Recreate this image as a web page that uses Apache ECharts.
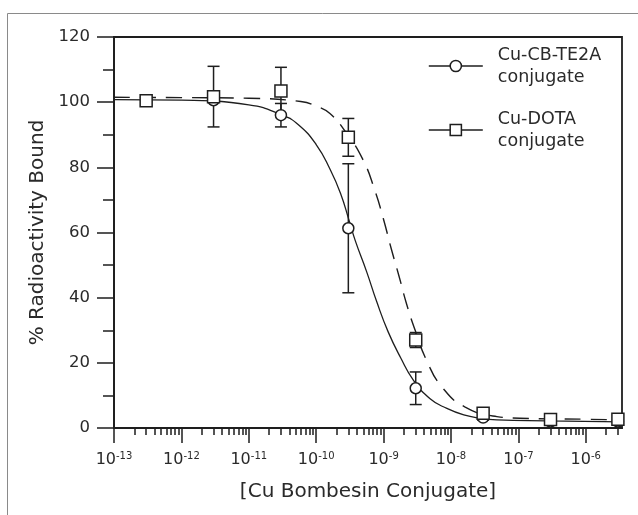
<!DOCTYPE html>
<html><head><meta charset="utf-8">
<script src="https://cdn.jsdelivr.net/npm/echarts@6/dist/echarts.min.js"></script>
<style>html,body{margin:0;padding:0;background:#fff}#c{width:638px;height:515px}</style>
</head><body><div id="c"></div>
<script>
// ---- data ----
const seriesNames = ['Cu-CB-TE2A conjugate', 'Cu-DOTA conjugate'];
const xAxisTitle = '[Cu Bombesin Conjugate]';
const yAxisTitle = '% Radioactivity Bound';

const concentrations = [3e-13, 3e-12, 3e-11, 3e-10, 3e-9, 3e-8, 3e-7, 3e-6];
const cbMeans   = [100.4, 100.6, 96.0, 61.3, 12.2, 3.2, 2.0, 2.0];
const cbErrors  = [0, 0, 3.6, 19.8, 5.0, 0.8, 0.4, 0.4];
const dotaMeans = [100.4, 101.7, 103.4, 89.2, 27.0, 4.5, 2.6, 2.7];
const dotaErrors = [0.6, 9.3, 7.3, 5.8, 2.3, 0.8, 0.5, 0.5];

// fitted curves
const cbFitX = [1e-13, 1e-12, 1e-11, 3.16e-11, 5.5e-11, 1e-10, 1.6e-10, 2.3e-10, 3.1e-10, 3.8e-10, 5.6e-10, 7.9e-10, 1.17e-9, 1.8e-9, 2.75e-9, 4.9e-9, 8.7e-9, 1.55e-8, 2.7e-8, 4.8e-8, 2.6e-7, 3.45e-6];
const cbFitY = [100.8, 100.6, 99.2, 96.0, 93.0, 87.0, 79.5, 72.0, 63.5, 57.5, 48.0, 38.8, 29.5, 21.5, 14.8, 9.0, 6.0, 4.0, 3.0, 2.5, 2.2, 1.9];
const dotaFitX = [1e-13, 1e-12, 1e-11, 5.9e-11, 1e-10, 1.6e-10, 2.7e-10, 4.9e-10, 7.4e-10, 1e-9, 1.3e-9, 1.7e-9, 2.2e-9, 3.0e-9, 4.4e-9, 7.4e-9, 1.6e-8, 4.8e-8, 1.05e-7, 9.1e-7, 3.45e-6];
const dotaFitY = [101.5, 101.4, 101.2, 100.2, 98.8, 96.5, 91.0, 82.5, 73.0, 64.0, 55.0, 46.5, 38.0, 29.5, 20.5, 12.5, 6.5, 3.5, 3.0, 2.7, 2.5];

// axis ticks
const xTickExponents = [-13, -12, -11, -10, -9, -8, -7, -6];
const minorMultipliers = [2, 3, 4, 5, 6, 7, 8, 9];
const xMin = 1e-13, xMax = 3.45e-6;
const yMin = 0, yMax = 120, yStep = 20;

// ---- build ----
const majorVals = xTickExponents.map(e => Math.pow(10, e));
const minorVals = [];
xTickExponents.forEach(e => minorMultipliers.forEach(m => {
  const v = m * Math.pow(10, e);
  if (v <= xMax) minorVals.push(v);
}));

const ink = '#1e1e1e';
const txt = '#2a2a2a';
const font = 'DejaVu Sans';

function errData(means, errs) {
  return concentrations.map((c, i) => [c, means[i] - errs[i], means[i] + errs[i], errs[i]]);
}
function errRender(params, api) {
  if (api.value(3) <= 0) return null;
  const lo = api.coord([api.value(0), api.value(1)]);
  const hi = api.coord([api.value(0), api.value(2)]);
  const w = 6;
  const style = { stroke: ink, lineWidth: 1.5 };
  return { type: 'group', children: [
    { type: 'line', shape: { x1: hi[0], y1: hi[1], x2: lo[0], y2: lo[1] }, style },
    { type: 'line', shape: { x1: hi[0] - w, y1: hi[1], x2: hi[0] + w, y2: hi[1] }, style },
    { type: 'line', shape: { x1: lo[0] - w, y1: lo[1], x2: lo[0] + w, y2: lo[1] }, style }
  ]};
}

const chart = echarts.init(document.getElementById('c'), null, { renderer: 'canvas' });
chart.setOption({
  animation: false,
  backgroundColor: '#fff',
  graphic: [
    { type: 'line', shape: { x1: 7.5, y1: 13.5, x2: 638, y2: 13.5 }, style: { stroke: '#8a8a8a', lineWidth: 1 } },
    { type: 'line', shape: { x1: 7.5, y1: 13.5, x2: 7.5, y2: 515 }, style: { stroke: '#8a8a8a', lineWidth: 1 } }
  ],
  grid: { left: 114, right: 16, top: 37, bottom: 87, show: true, borderColor: ink, borderWidth: 1.8, backgroundColor: 'transparent' },
  legend: {
    orient: 'vertical', left: 428, top: 44, padding: 0,
    itemWidth: 54, itemHeight: 14, itemGap: 20,
    data: seriesNames,
    formatter: n => n.replace(' ', '\n'),
    textStyle: { fontFamily: font, fontSize: 17.5, color: txt, lineHeight: 22, padding: [0, 0, 0, 10] },
    itemStyle: { color: '#fff', borderColor: ink, borderWidth: 1.5 },
    lineStyle: { color: ink, width: 1.6, type: 'solid' }
  },
  xAxis: [{
    type: 'log', logBase: 10, min: xMin, max: xMax,
    name: xAxisTitle, nameLocation: 'middle', nameGap: 54,
    nameTextStyle: { fontFamily: font, fontSize: 20, color: txt },
    axisLine: { lineStyle: { color: ink, width: 1.8 } },
    axisTick: { customValues: majorVals, length: 15, lineStyle: { color: ink, width: 1.5 } },
    axisLabel: {
      customValues: majorVals, margin: 23,
      formatter: v => '{b|10}{e|' + Math.round(Math.log10(v)) + '}',
      rich: {
        b: { fontFamily: font, fontSize: 16, color: txt, lineHeight: 18 },
        e: { fontFamily: font, fontSize: 10, color: txt, verticalAlign: 'top', lineHeight: 18 }
      }
    },
    splitLine: { show: false }
  }, {
    type: 'log', logBase: 10, min: xMin, max: xMax, position: 'bottom',
    axisLine: { show: false },
    axisTick: { customValues: minorVals, length: 7, lineStyle: { color: ink, width: 1.5 } },
    axisLabel: { show: false },
    splitLine: { show: false }
  }],
  yAxis: {
    type: 'value', min: yMin, max: yMax, interval: yStep,
    name: yAxisTitle, nameLocation: 'middle', nameGap: 66,
    nameTextStyle: { fontFamily: font, fontSize: 20, color: txt },
    axisLine: { show: true, lineStyle: { color: ink, width: 1.8 } },
    axisTick: { show: true, length: 17, lineStyle: { color: ink, width: 1.5 } },
    minorTick: { show: true, splitNumber: 2, length: 11, lineStyle: { color: ink, width: 1.5 } },
    axisLabel: { margin: 24, fontFamily: font, fontSize: 16.5, color: txt },
    splitLine: { show: false }
  },
  series: [
    {
      name: seriesNames[0], type: 'line', z: 2, smooth: 0.5,
      symbol: 'circle', showSymbol: false, silent: true,
      lineStyle: { color: ink, width: 1.3, type: 'solid' },
      itemStyle: { color: '#fff', borderColor: ink },
      data: cbFitX.map((x, i) => [x, cbFitY[i]])
    },
    {
      name: seriesNames[1], type: 'line', z: 2, smooth: 0.5,
      symbol: 'rect', showSymbol: false, silent: true,
      lineStyle: { color: ink, width: 1.4, type: [16, 10] },
      itemStyle: { color: '#fff', borderColor: ink },
      data: dotaFitX.map((x, i) => [x, dotaFitY[i]])
    },
    { name: 'cb-err', type: 'custom', z: 3, silent: true, renderItem: errRender, encode: { x: 0, y: [1, 2] }, data: errData(cbMeans, cbErrors) },
    { name: 'dota-err', type: 'custom', z: 3, silent: true, renderItem: errRender, encode: { x: 0, y: [1, 2] }, data: errData(dotaMeans, dotaErrors) },
    {
      name: 'cb-points', type: 'scatter', z: 4, symbol: 'circle', symbolSize: 11, silent: true,
      itemStyle: { color: '#fff', borderColor: ink, borderWidth: 1.5, opacity: 1 },
      data: concentrations.map((c, i) => [c, cbMeans[i]])
    },
    {
      name: 'dota-points', type: 'scatter', z: 5, symbol: 'rect', symbolSize: 12, silent: true,
      itemStyle: { color: '#fff', borderColor: ink, borderWidth: 1.5, opacity: 1 },
      data: concentrations.map((c, i) => [c, dotaMeans[i]])
    }
  ]
});
</script>
</body></html>
